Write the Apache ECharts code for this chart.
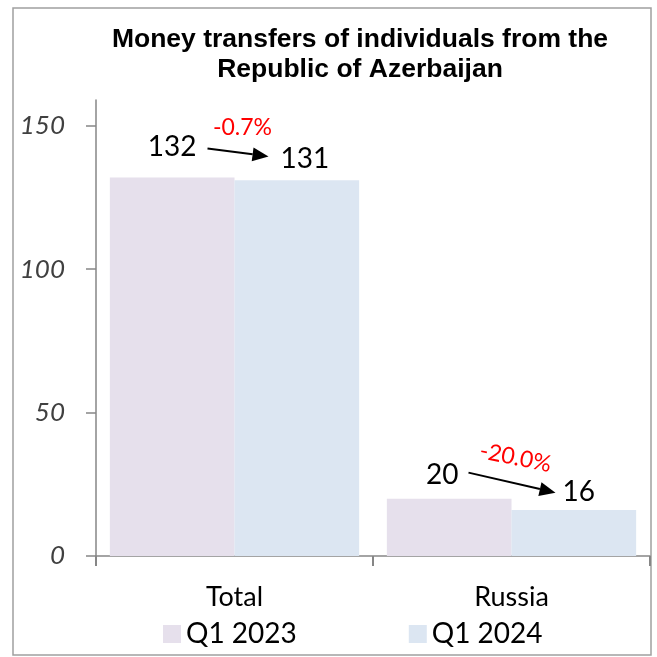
<!DOCTYPE html>
<html>
<head>
<meta charset="utf-8">
<script src="https://cdn.jsdelivr.net/npm/echarts@6/dist/echarts.min.js"></script>
<style>
    html, body { margin: 0; padding: 0; background: #fff; }
    #chart { width: 657px; height: 657px; }
</style>
</head>
<body>
<div id="chart"></div>
<script>
// chart data
var categories = ['Total', 'Russia'];
var q1_2023 = [132, 20];
var q1_2024 = [131, 16];
var changes = ['-0.7%', '-20.0%'];
var yTicks = [0, 50, 100, 150];

// label nudges (pixels), per category
var offsets2023 = [[0, -11], [-7, -5]];
var offsets2024 = [[8, -2], [5, 1]];
// arrow / percent positions relative to the Q1 2023 bar top at category center
var arrowFrom = [[-27, -29], [-43, -26]];
var arrowTo = [[34, -21], [44, -6]];
var pctAt = [[8, -50], [4, -41]];
var pctRotate = [0, -0.2];

var font = 'Lato, "Open Sans", sans-serif';

var chart = echarts.init(document.getElementById('chart'));

function barData(values, offsets) {
    return values.map(function (v, i) {
        return { value: v, label: { offset: offsets[i] } };
    });
}

var option = {
    animation: false,
    title: {
        text: 'Money transfers of individuals from the\nRepublic of Azerbaijan',
        left: 355,
        top: 20,
        textAlign: 'center',
        textStyle: {
            fontFamily: '"Liberation Sans", Arial, sans-serif',
            fontWeight: 'bold',
            fontSize: 26.5,
            lineHeight: 30,
            color: '#000'
        }
    },
    legend: {
        left: 163,
        top: 620,
        padding: 0,
        icon: 'rect',
        itemWidth: 18,
        itemHeight: 18,
        itemGap: 112,
        textStyle: { fontFamily: font, fontSize: 28, color: '#000' },
        data: ['Q1 2023', 'Q1 2024']
    },
    grid: { left: 96, right: 7, top: 100, bottom: 101 },
    xAxis: {
        type: 'category',
        data: categories,
        axisLine: { lineStyle: { color: '#868686', width: 1.5 } },
        axisTick: { show: true, length: 10, lineStyle: { color: '#868686', width: 2 } },
        axisLabel: { fontFamily: font, fontSize: 27, color: '#000', margin: 28 }
    },
    yAxis: {
        type: 'value',
        min: 0,
        max: 159,
        splitLine: { show: false },
        axisLine: { show: true, lineStyle: { color: '#868686', width: 1.5 } },
        axisTick: { show: true, length: 10, customValues: yTicks, lineStyle: { color: '#868686', width: 1.5 } },
        axisLabel: {
            customValues: yTicks,
            fontFamily: font, fontSize: 26, fontStyle: 'italic', color: '#404040', margin: 31
        }
    },
    series: [
        {
            name: 'Q1 2023',
            type: 'bar',
            barGap: '0%',
            barCategoryGap: '10%',
            itemStyle: { color: '#E6E0EC' },
            label: { show: true, position: 'top', fontFamily: font, fontSize: 28, color: '#000' },
            data: barData(q1_2023, offsets2023)
        },
        {
            name: 'Q1 2024',
            type: 'bar',
            itemStyle: { color: '#DCE6F2' },
            label: { show: true, position: 'top', fontFamily: font, fontSize: 28, color: '#000' },
            data: barData(q1_2024, offsets2024)
        }
    ]
};

chart.setOption(option);

function arrow(x1, y1, x2, y2) {
    var dx = x2 - x1, dy = y2 - y1;
    var len = Math.sqrt(dx * dx + dy * dy);
    var ux = dx / len, uy = dy / len;
    var head = 16, half = 7;
    var bx = x2 - ux * head, by = y2 - uy * head;
    return [
        { type: 'line', shape: { x1: x1, y1: y1, x2: bx, y2: by }, style: { stroke: '#000', lineWidth: 2 } },
        {
            type: 'polygon',
            shape: { points: [[x2, y2], [bx - uy * half, by + ux * half], [bx + uy * half, by - ux * half]] },
            style: { fill: '#000' }
        }
    ];
}

// annotations anchored on data via the axes
var graphics = [{
    type: 'rect',
    shape: { x: 13, y: 8, width: 638, height: 647 },
    style: { fill: 'none', stroke: '#a0a0a0', lineWidth: 1.5 },
    silent: true
}];
categories.forEach(function (c, i) {
    var p = chart.convertToPixel({ gridIndex: 0 }, [i, q1_2023[i]]);
    graphics = graphics.concat(arrow(
        p[0] + arrowFrom[i][0], p[1] + arrowFrom[i][1],
        p[0] + arrowTo[i][0], p[1] + arrowTo[i][1]
    ));
    graphics.push({
        type: 'text',
        x: p[0] + pctAt[i][0],
        y: p[1] + pctAt[i][1],
        rotation: pctRotate[i],
        style: {
            text: changes[i], fill: '#ff0000', fontFamily: font, fontSize: 23,
            textAlign: 'center', textVerticalAlign: 'middle'
        }
    });
});
chart.setOption({ graphic: graphics });
</script>
</body>
</html>
